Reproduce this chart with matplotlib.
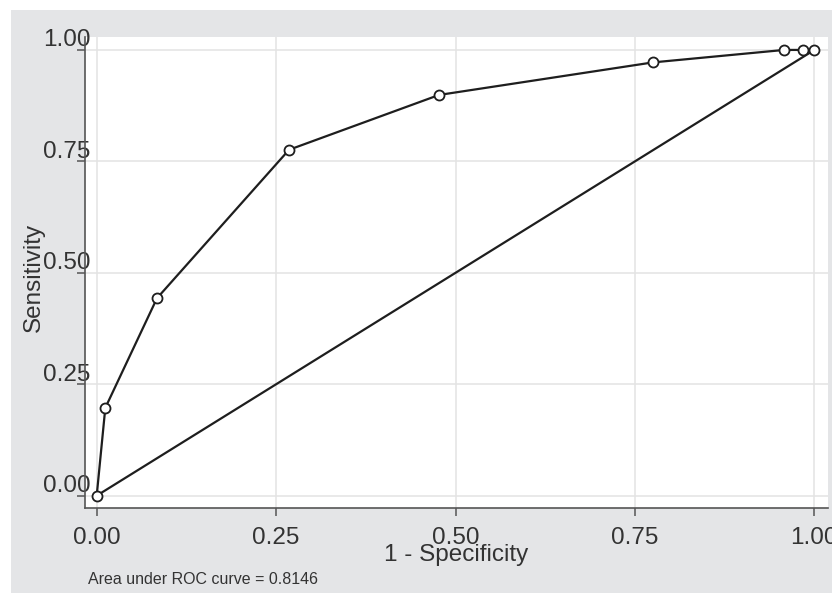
import matplotlib.pyplot as plt
import matplotlib.transforms as mtransforms
from matplotlib.patches import Rectangle

# ROC points
fpr = [0.0, 0.012, 0.084, 0.268, 0.477, 0.775, 0.958, 0.984, 1.0]
tpr = [0.0, 0.197, 0.443, 0.776, 0.899, 0.972, 1.0, 1.0, 1.0]
ref_x = [0.0, 1.0]
ref_y = [0.0, 1.0]
ticks = [0.0, 0.25, 0.5, 0.75, 1.0]
tick_labels = ["0.00", "0.25", "0.50", "0.75", "1.00"]
auc_text = "Area under ROC curve = 0.8146"

W, H = 832, 593
plt.rcParams["font.family"] = ["Liberation Sans", "DejaVu Sans"]

fig = plt.figure(figsize=(W / 100, H / 100), dpi=100, facecolor="white")
fig.patches.append(Rectangle((11 / W, 0), 1 - 11 / W, 1 - 10 / H,
                             transform=fig.transFigure, facecolor="#e4e5e7",
                             edgecolor="none", zorder=-10))

ax = fig.add_axes([85 / W, (H - 508) / H, (828 - 85) / W, (508 - 37) / H])
ax.set_facecolor("white")

ax.plot(ref_x, ref_y, color="#1e1e1e", lw=1.6, zorder=3)
ax.plot(fpr, tpr, color="#1e1e1e", lw=1.6, marker="o", markersize=7.2,
        markerfacecolor="white", markeredgecolor="#1e1e1e", markeredgewidth=1.3,
        zorder=4, clip_on=False)

ax.set_xlim(-0.0163, 1.019)
ax.set_ylim(-0.0276, 1.029)
ax.set_xticks(ticks)
ax.set_xticklabels(tick_labels)
ax.set_yticks(ticks)
ax.set_yticklabels(tick_labels)
ax.grid(True, color="#e3e3e3", lw=1.1, zorder=0)
ax.set_axisbelow(True)

for side in ["top", "right"]:
    ax.spines[side].set_visible(False)
for side in ["left", "bottom"]:
    ax.spines[side].set_color("#555555")
    ax.spines[side].set_linewidth(1.2)

ax.tick_params(axis="both", colors="#555555", labelcolor="#333333",
               labelsize=17.5, length=6, width=1.1)
ax.tick_params(axis="x", pad=8)
ax.tick_params(axis="y", pad=-10)
shift = mtransforms.ScaledTranslation(0, 0.12, fig.dpi_scale_trans)
for lab in ax.get_yticklabels():
    lab.set_transform(lab.get_transform() + shift)

ax.set_xlabel("1 - Specificity", fontsize=17.5, color="#333333", va="center")
ax.xaxis.set_label_coords(0.5, -0.1)
ax.set_ylabel("Sensitivity", fontsize=17.5, color="#333333", va="center")
ax.yaxis.set_label_coords(-0.069, 0.49)

fig.text(88 / W, 1 - 580 / H, auc_text, fontsize=11.5, color="#333333",
         ha="left", va="center")

fig.savefig("out.png", dpi=100, facecolor=fig.get_facecolor())
